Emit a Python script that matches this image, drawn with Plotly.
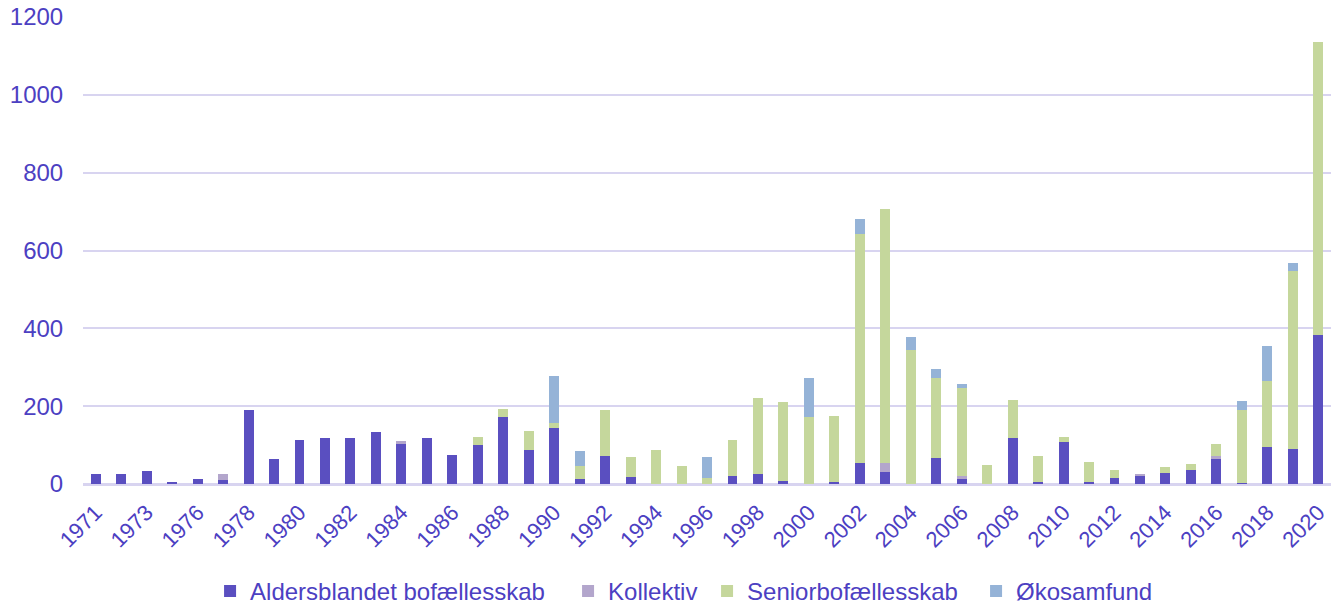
import plotly.graph_objects as go

years = ["1971", "1972", "1973", "1975", "1976", "1977", "1978", "1979"] + [str(y) for y in range(1980, 2021)]

aldersblandet = [26, 26, 33, 5, 14, 11, 190, 65,
                 112, 117, 118, 134, 103, 118, 75, 101, 172, 88,
                 143, 14, 73, 17, 0, 0, 0, 21, 25, 7,
                 0, 6, 55, 32, 0, 68, 15, 0, 117, 6,
                 109, 6, 15, 20, 29, 35, 63, 3, 94, 91,
                 384]
kollektiv = [0, 0, 0, 0, 0, 15, 0, 0,
             0, 0, 0, 0, 8, 0, 0, 0, 0, 0,
             0, 0, 0, 0, 0, 0, 0, 0, 0, 0,
             0, 0, 0, 21, 0, 0, 5, 0, 0, 0,
             0, 0, 0, 6, 0, 0, 8, 0, 0, 0,
             0]
senior = [0, 0, 0, 0, 0, 0, 0, 0,
          0, 0, 0, 0, 0, 0, 0, 20, 20, 47,
          14, 31, 117, 53, 88, 46, 15, 92, 197, 204,
          172, 168, 587, 653, 344, 204, 226, 49, 98, 66,
          12, 50, 22, 0, 15, 17, 32, 187, 170, 457,
          751]
oko = [0, 0, 0, 0, 0, 0, 0, 0,
       0, 0, 0, 0, 0, 0, 0, 0, 0, 0,
       120, 40, 0, 0, 0, 0, 54, 0, 0, 0,
       100, 0, 40, 0, 34, 23, 10, 0, 0, 0,
       0, 0, 0, 0, 0, 0, 0, 24, 91, 20,
       0]

series_names = ["Aldersblandet bofællesskab", "Kollektiv", "Seniorbofællesskab", "Økosamfund"]
colors = ["#5A4FC0", "#B3A6CC", "#C5D79C", "#95B3D7"]
legend_widths = [313, 94, 224, 140]
tick_years = years[::2]

text_color = "#4C40C2"
font_family = "Arial, Liberation Sans, sans-serif"

fig = go.Figure()
for name, vals, col, lw in zip(series_names, [aldersblandet, kollektiv, senior, oko], colors, legend_widths):
    fig.add_trace(go.Bar(x=years, y=vals, name=name, legendwidth=lw,
                         marker=dict(color=col, line=dict(width=0))))

fig.update_layout(
    barmode="stack",
    bargap=0.61,
    width=1338, height=604,
    margin=dict(l=83, r=7, t=17, b=120, autoexpand=False),
    paper_bgcolor="white", plot_bgcolor="white",
    font=dict(family=font_family, size=24, color=text_color),
    legend=dict(orientation="h", x=0.157, xanchor="left", xref="container",
                y=0.021, yanchor="middle", yref="container",
                font=dict(size=24, color=text_color), traceorder="normal",
                itemwidth=30),
    xaxis=dict(type="category", tickmode="array", tickvals=tick_years, ticktext=tick_years,
               tickangle=-45, ticks="outside", ticklen=5, tickcolor="rgba(0,0,0,0)",
               showgrid=False, showline=True, linecolor="#D8D4F0", linewidth=2,
               automargin=False,
               tickfont=dict(size=22, color=text_color)),
    yaxis=dict(range=[0, 1200], tickvals=[0, 200, 400, 600, 800, 1000, 1200],
               showgrid=True, gridcolor="#D8D4F0", gridwidth=2,
               zeroline=True, zerolinecolor="#D8D4F0", zerolinewidth=2,
               ticks="outside", ticklen=14, tickcolor="rgba(0,0,0,0)",
               automargin=False,
               tickfont=dict(size=24, color=text_color)),
)

fig.write_html("out.html")
